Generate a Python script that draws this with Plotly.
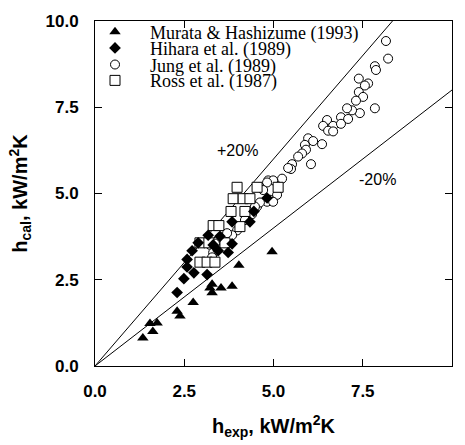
import plotly.graph_objects as go

# Murata & Hashizume (1993)
murata_x = [1.34, 1.54, 1.74, 1.62, 2.30, 2.38, 2.75, 3.28, 3.28, 3.22, 3.53, 3.84, 4.03, 4.96]
murata_y = [0.81, 1.23, 1.25, 1.00, 1.59, 1.45, 1.84, 2.37, 2.12, 2.26, 2.26, 2.31, 2.92, 3.31]

# Hihara et al. (1989)
hihara_x = [2.30, 2.49, 2.58, 2.77, 2.58, 2.72, 3.14, 3.45, 3.73, 3.84, 3.31, 3.17, 3.50,
            3.84, 4.34, 4.45, 4.82, 2.89]
hihara_y = [2.13, 2.53, 2.87, 2.70, 3.09, 3.34, 2.65, 3.34, 3.29, 3.54, 3.51, 3.79, 3.76,
            4.18, 4.18, 4.48, 4.87, 3.57]

# Jung et al. (1989)
jung_x = [8.15, 8.21, 7.84, 7.87, 7.39, 7.65, 7.56, 7.39, 7.51, 7.31, 7.84, 7.42, 7.20, 7.06,
          6.89, 7.09, 6.50, 6.39, 6.67, 6.89, 6.53, 6.67, 5.97, 6.11, 6.36, 5.88, 5.91, 5.80,
          5.69, 6.05, 5.52, 5.49, 5.24, 4.85, 4.99, 4.82, 4.62, 4.71, 5.10, 4.90, 4.82, 4.99,
          4.54, 4.62, 4.40, 4.20, 3.98, 3.84, 3.70, 3.42, 3.22, 3.36, 3.31, 3.28, 4.48, 5.41]
jung_y = [9.42, 8.91, 8.69, 8.58, 8.33, 8.19, 8.13, 7.94, 7.80, 7.69, 7.47, 7.33, 7.41, 7.47,
          7.21, 7.16, 7.13, 6.96, 6.96, 7.02, 6.82, 6.80, 6.60, 6.52, 6.43, 6.41, 6.27, 6.16,
          6.07, 5.85, 5.85, 5.71, 5.43, 5.38, 5.38, 5.32, 5.18, 5.10, 4.96, 4.82, 4.76, 4.76,
          4.62, 4.74, 4.40, 4.23, 3.93, 3.79, 3.85, 3.62, 3.51, 3.55, 3.29, 3.15, 4.62, 5.74]

# Ross et al. (1987)
ross_x = [3.98, 4.54, 3.87, 4.15, 4.34, 5.13, 3.81, 4.20, 3.31, 3.47, 4.06, 2.94, 3.19, 3.64,
          2.94, 3.14, 3.36]
ross_y = [5.18, 5.18, 4.85, 4.85, 4.85, 5.18, 4.48, 4.48, 4.07, 4.07, 4.04, 3.57, 3.57, 3.57,
          3.01, 3.01, 3.01]

# +/-20 % reference lines
line_x = [0, 10]
plus20_y = [0, 12]
minus20_y = [0, 8]

x_ticks = [0, 2.5, 5, 7.5, 10]
x_tick_labels = ["0.0", "2.5", "5.0", "7.5", "10.0"]

fig = go.Figure()
fig.add_trace(go.Scatter(x=line_x, y=plus20_y, mode="lines", line=dict(color="black", width=1),
                         showlegend=False, hoverinfo="skip"))
fig.add_trace(go.Scatter(x=line_x, y=minus20_y, mode="lines", line=dict(color="black", width=1),
                         showlegend=False, hoverinfo="skip"))

fig.add_trace(go.Scatter(x=jung_x, y=jung_y, mode="markers", name="Jung et al. (1989)",
                         marker=dict(symbol="circle", size=9, color="white",
                                     line=dict(color="black", width=1)), legend="legend3"))
fig.add_trace(go.Scatter(x=ross_x, y=ross_y, mode="markers", name="Ross et al. (1987)",
                         marker=dict(symbol="square", size=10, color="white",
                                     line=dict(color="black", width=1)), legend="legend4"))
fig.add_trace(go.Scatter(x=hihara_x, y=hihara_y, mode="markers", name="Hihara et al. (1989)",
                         marker=dict(symbol="diamond", size=9, color="black",
                                     line=dict(color="black", width=0)), legend="legend2"))
fig.add_trace(go.Scatter(x=murata_x, y=murata_y, mode="markers", name="Murata & Hashizume (1993)",
                         marker=dict(symbol="triangle-up", size=10, color="black",
                                     line=dict(color="black", width=0)), legend="legend"))

legend_common = dict(x=-0.042, xanchor="left", yanchor="middle", bgcolor="rgba(0,0,0,0)",
                     borderwidth=0, itemwidth=60,
                     font=dict(family="Liberation Serif", size=18, color="black"))

fig.add_annotation(x=3.98, y=6.25, text="+20%", showarrow=False,
                   font=dict(family="Liberation Sans", size=16, color="black"))
fig.add_annotation(x=7.9, y=5.4, text="-20%", showarrow=False,
                   font=dict(family="Liberation Sans", size=16, color="black"))

axis_common = dict(range=[0, 10], tickvals=x_ticks, ticktext=x_tick_labels,
                   showgrid=False, zeroline=False, showline=True, linecolor="black",
                   linewidth=1, mirror="ticks", ticks="inside", ticklen=7,
                   tickcolor="black", tickwidth=1,
                   tickfont=dict(family="Liberation Sans", size=17, color="black", weight="bold"))

fig.update_layout(
    width=465, height=445,
    margin=dict(l=95, r=13, t=14, b=72),
    paper_bgcolor="white", plot_bgcolor="white",
    legend=dict(y=0.968, **legend_common),
    legend2=dict(y=0.921, **legend_common),
    legend3=dict(y=0.873, **legend_common),
    legend4=dict(y=0.827, **legend_common),
    xaxis=dict(title=dict(text="h<sub>exp</sub>, kW/m<sup>2</sup>K", standoff=18,
                          font=dict(family="Liberation Sans", size=20, color="black", weight="bold")),
               ticklabelstandoff=10, **axis_common),
    yaxis=dict(title=dict(text="h<sub>cal</sub>, kW/m<sup>2</sup>K", standoff=12,
                          font=dict(family="Liberation Sans", size=20, color="black", weight="bold")),
               ticklabelstandoff=12, **axis_common),
)

fig.write_html("out.html")
